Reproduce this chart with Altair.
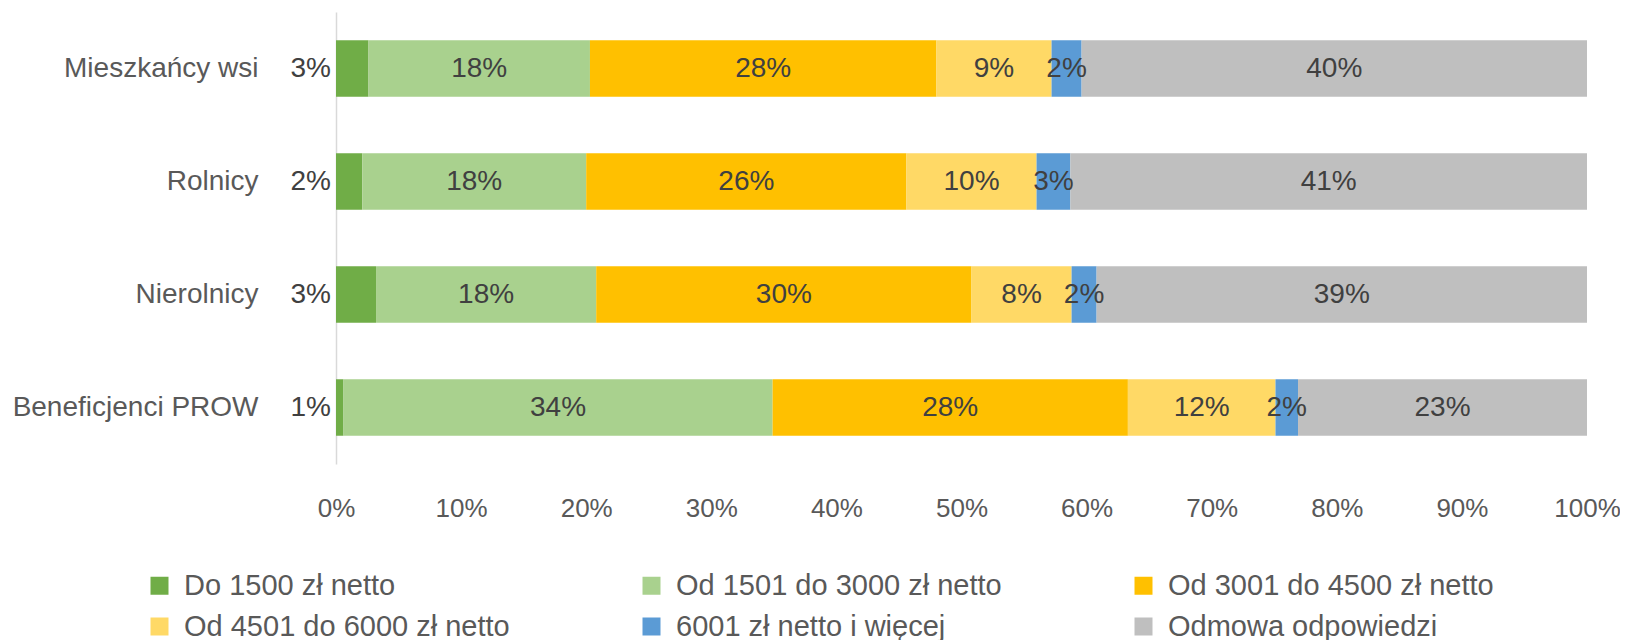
import altair as alt
import pandas as pd

categories = ["Mieszkańcy wsi", "Rolnicy", "Nierolnicy", "Beneficjenci PROW"]
series = ["Do 1500 zł netto", "Od 1501 do 3000 zł netto", "Od 3001 do 4500 zł netto",
          "Od 4501 do 6000 zł netto", "6001 zł netto i więcej", "Odmowa odpowiedzi"]
colors = ["#70AD47", "#A9D18E", "#FFC000", "#FFD966", "#5B9BD5", "#BFBFBF"]

do_1500 = [2.6, 2.1, 3.2, 0.6]
od_1501 = [17.7, 17.9, 17.6, 34.3]
od_3001 = [27.7, 25.6, 30.0, 28.4]
od_4501 = [9.2, 10.4, 8.0, 11.8]
od_6001 = [2.4, 2.7, 2.0, 1.8]
odmowa = [40.4, 41.3, 39.2, 23.1]
x_ticks = [0, 10, 20, 30, 40, 50, 60, 70, 80, 90, 100]

FONT = "Liberation Sans"
all_series = [do_1500, od_1501, od_3001, od_4501, od_6001, odmowa]
rows = []
for si, (name, vals) in enumerate(zip(series, all_series)):
    for ci, cat in enumerate(categories):
        rows.append({"cat": cat, "series": name, "order": si, "value": vals[ci]})
df = pd.DataFrame(rows)

base = alt.Chart(df).transform_stack(
    stack="value", groupby=["cat"], as_=["x0", "x1"],
    sort=[alt.SortField("order", order="ascending")]
).transform_calculate(
    mid="(datum.x0 + datum.x1) / 2",
    label="format(datum.value, '.0f') + '%'"
)

y_enc = alt.Y("cat:N", sort=categories,
              scale=alt.Scale(paddingInner=0.5, paddingOuter=0.25),
              axis=alt.Axis(title=None, labelFontSize=28, labelColor="#595959", labelFont=FONT,
                            ticks=False, labelPadding=78, labelLimit=600,
                            domainColor="#D9D9D9", domainWidth=1.5, grid=False))
x_scale = alt.Scale(domain=[0, 100], nice=False)

bars = base.mark_bar().encode(
    y=y_enc,
    x=alt.X("x0:Q", scale=x_scale,
            axis=alt.Axis(title=None, values=x_ticks, labelExpr="datum.value + '%'",
                          domain=False, ticks=False, grid=False, labelPadding=31,
                          labelFontSize=26, labelColor="#595959", labelFont=FONT,
                          labelFlush=False, labelOverlap=False)),
    x2="x1:Q",
    color=alt.Color("series:N", scale=alt.Scale(domain=series, range=colors),
                    legend=alt.Legend(title=None, orient="none", legendX=-191, legendY=559,
                                      direction="horizontal", columns=3,
                                      symbolType="square", symbolSize=324,
                                      symbolStrokeWidth=0, labelFontSize=29, labelColor="#595959",
                                      labelFont=FONT, rowPadding=11, columnPadding=127,
                                      gridAlign="all", labelOffset=10, labelLimit=600)),
)

inner = base.transform_filter("datum.order > 0").mark_text(
    fontSize=28, color="#404040", font=FONT, baseline="middle", align="center"
).encode(y=alt.Y("cat:N", sort=categories), x=alt.X("mid:Q", scale=x_scale), text="label:N")

outer = base.transform_filter("datum.order == 0").mark_text(
    fontSize=28, color="#404040", font=FONT, baseline="middle", align="right", dx=-5
).encode(y=alt.Y("cat:N", sort=categories), x=alt.X("x0:Q", scale=x_scale), text="label:N")

chart = alt.layer(bars, inner, outer).properties(
    width=1251, height=452,
    padding={"left": 328, "top": 4, "right": 33, "bottom": 176},
    autosize="none",
).configure_view(stroke=None)

chart.save("out.html", embed_options={"renderer": "svg", "actions": False})
